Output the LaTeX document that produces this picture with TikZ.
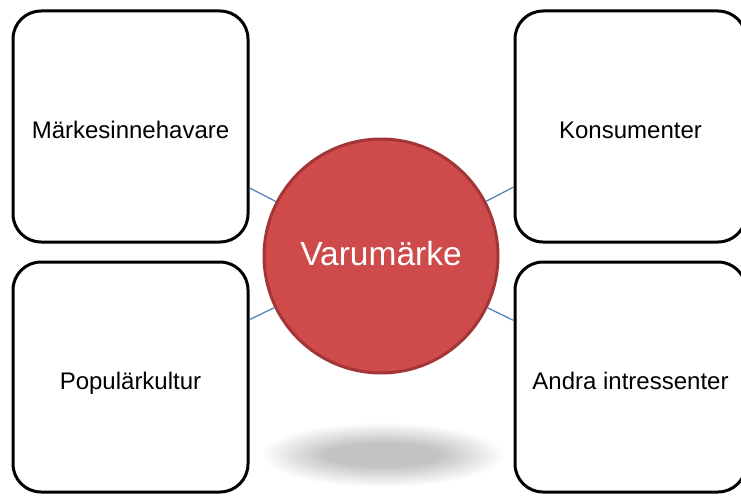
\documentclass[tikz,border=0pt]{standalone}
\usepackage{fontspec}
\setmainfont{Liberation Sans}
\definecolor{brandfill}{HTML}{CF4A4B}
\definecolor{brandline}{HTML}{A23636}
\definecolor{linkblue}{HTML}{4A7EBB}
\tikzset{
  actor/.style={draw=black, line width=3pt, rounded corners=28pt, fill=white,
    inner sep=0pt, font=\fontsize{24}{28}\selectfont, text=black,
    text height=25pt, text depth=1pt},
  brand/.style={circle, draw=brandline, line width=3pt, fill=brandfill,
    minimum size=234pt, inner sep=0pt, font=\fontsize{33.5}{38}\selectfont, text=white,
    text height=24pt, text depth=6pt},
  link/.style={draw=linkblue, line width=1.2pt},
  shadowlayer/.style={fill=black, opacity=0.012}
}
\begin{document}
\begin{tikzpicture}[x=1pt, y=-1pt]
\useasboundingbox (0,0) rectangle (741,495);
\fill[white] (0,0) rectangle (741,495);
% soft shadow under the circle
\foreach \i in {0,...,19}
  \fill[shadowlayer] (383,455) ellipse [x radius={120-3.2*\i}, y radius={32-1.05*\i}];
% stakeholder boxes
\node[actor, minimum width=235pt, minimum height=231pt] (own) at (130.5,126.5) {Märkesinnehavare};
\node[actor, minimum width=235pt, minimum height=230pt] (pop) at (130.5,377) {Populärkultur};
\node[actor, minimum width=231pt, minimum height=231pt] (kon) at (630.5,126.5) {Konsumenter};
\node[actor, minimum width=231pt, minimum height=230pt] (oth) at (630.5,377) {Andra intressenter};
% central brand
\node[brand] (brand) at (381,256) {Varumärke};
% connectors
\draw[link] (brand) -- (own);
\draw[link] (brand) -- (pop);
\draw[link] (brand) -- (kon);
\draw[link] (brand) -- (oth);
\end{tikzpicture}
\end{document}
